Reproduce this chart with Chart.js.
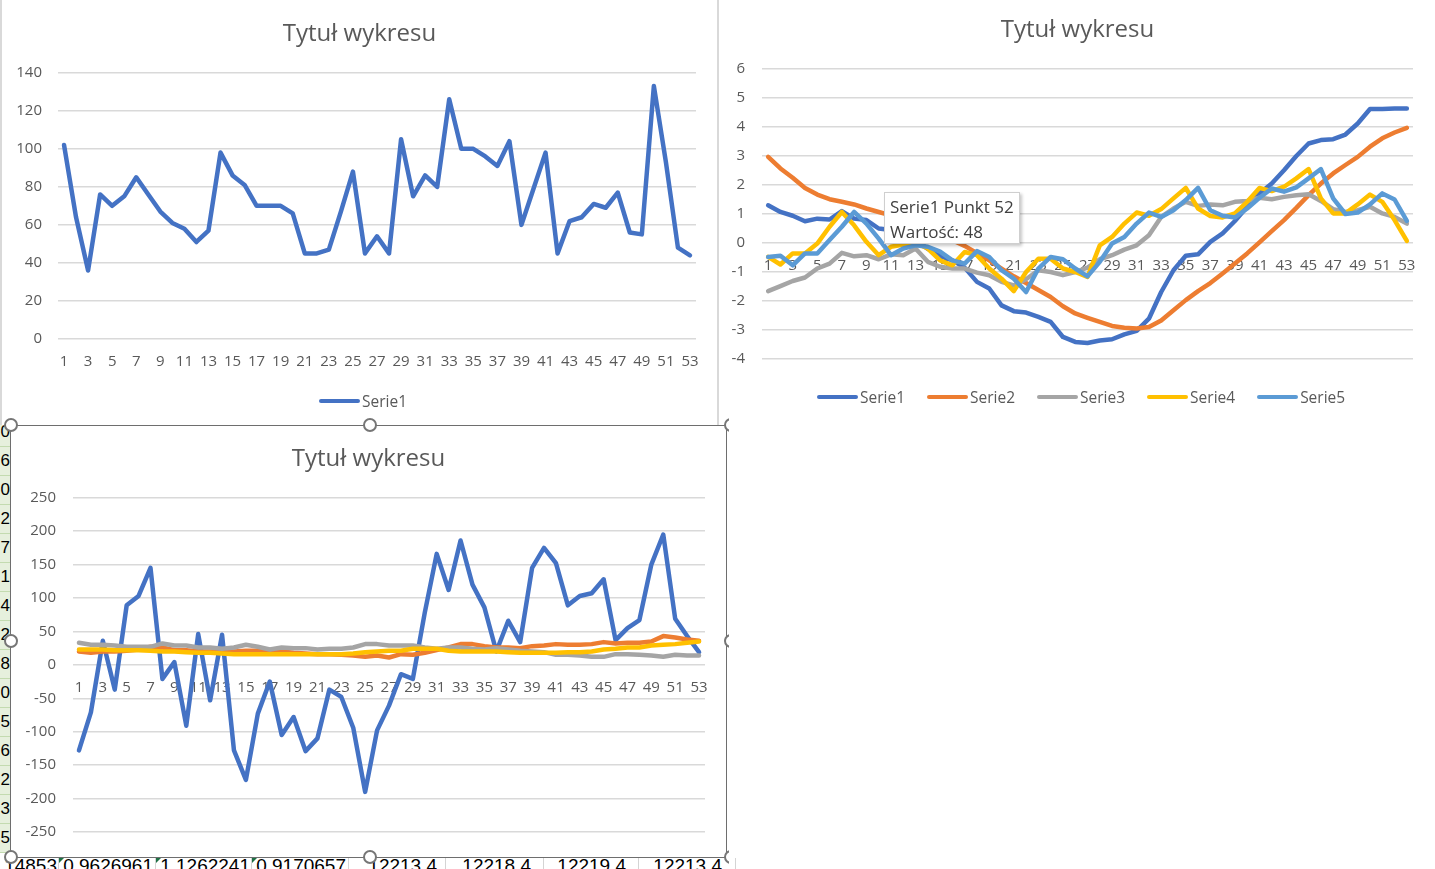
<!DOCTYPE html>
<html lang="pl">
<head>
<meta charset="utf-8">
<title>Tytuł wykresu</title>
<script src="https://cdn.jsdelivr.net/npm/chart.js@4.4.1/dist/chart.umd.min.js"></script>
<style>
html, body { margin: 0; padding: 0; background: #fff; }
#sheet { position: relative; width: 1435px; height: 869px; overflow: hidden; font-family: "Open Sans", "Noto Sans", sans-serif; }
.chartBox { position: absolute; background: #fff; }
.chartBox canvas { display: block; }
.chartBox .title { position: absolute; left: 0; width: 100%; text-align: center; font-size: 24px; line-height: 30px; color: #595959; white-space: nowrap; }
.edge { position: absolute; background: #d9d9d9; }
.legend { position: absolute; display: flex; align-items: center; font-size: 15.5px; line-height: 20px; color: #595959; white-space: nowrap; }
.legend .item { display: flex; align-items: center; margin-right: 22px; }
.legend .swatch { width: 41px; height: 4px; border-radius: 2px; margin-right: 2px; }
#leftCells { position: absolute; left: 0; top: 418px; width: 10px; height: 440px; overflow: hidden; }
#leftCells div { height: 28px; border-bottom: 1px solid #c3dbb0; background: #e6f0dd; text-align: right; font: 17px/28px "Liberation Sans", sans-serif; color: #000; }
#bottomCells { position: absolute; left: 0; top: 858px; width: 1435px; height: 11px; overflow: hidden; }
#bottomCells span { position: absolute; top: -3px; font: 19px/22px "Liberation Sans", sans-serif; color: #000; }
#bottomCells i { position: absolute; top: 0; width: 1px; height: 11px; background: #d4d4d4; }
#bottomCells b { position: absolute; top: 0; width: 0; height: 0; border-top: 5px solid #1e7145; border-right: 5px solid transparent; }
#selBorder { position: absolute; left: 10px; top: 425px; width: 717px; height: 433px; border: 1px solid #6e6e6e; box-sizing: border-box; }
#handles { position: absolute; left: 0; top: 0; width: 729px; height: 869px; overflow: hidden; }
#handles div { position: absolute; width: 10px; height: 10px; margin: -7.5px 0 0 -7.5px; border: 2.5px solid #767676; border-radius: 50%; background: #fff; }
#tip { position: absolute; left: 884px; top: 192px; width: 136px; height: 52px; box-sizing: border-box; padding: 1px 5px; background: #fff; border: 1px solid #cfcfcf; box-shadow: 2px 2px 3px rgba(0,0,0,0.22); font-size: 17px; line-height: 25px; color: #404040; white-space: nowrap; }
</style>
</head>
<body>
<div id="sheet">
  <div id="leftCells"></div>
  <div id="bottomCells"></div>

  <div class="chartBox" style="left:1px; top:0; width:717px; height:425px;">
    <canvas id="chartTopLeft" width="717" height="425"></canvas>
    <div class="title" style="top:17px;"></div>
  </div>
  <div class="edge" style="left:0; top:0; width:2px; height:425px;"></div>
  <div class="edge" style="left:717px; top:0; width:2px; height:425px;"></div>
  <div class="legend" id="legendTopLeft" style="left:319px; top:391px;"></div>

  <div class="chartBox" style="left:720px; top:0; width:715px; height:425px;">
    <canvas id="chartTopRight" width="715" height="425"></canvas>
    <div class="title" style="top:13px;"></div>
  </div>
  <div class="legend" id="legendTopRight" style="left:817px; top:387px;"></div>

  <div class="chartBox" style="left:10px; top:425px; width:717px; height:433px;">
    <canvas id="chartBottom" width="717" height="433"></canvas>
    <div class="title" style="top:17px;"></div>
  </div>
  <div id="selBorder"></div>
  <div id="handles"></div>

  <div id="tip"></div>
</div>

<script>
var chartTitle = 'Tytuł wykresu';

// categories 1..53 shared by all three charts
var categories = [1, 2, 3, 4, 5, 6, 7, 8, 9, 10, 11, 12, 13, 14, 15, 16, 17, 18, 19, 20,
  21, 22, 23, 24, 25, 26, 27, 28, 29, 30, 31, 32, 33, 34, 35, 36, 37, 38, 39, 40,
  41, 42, 43, 44, 45, 46, 47, 48, 49, 50, 51, 52, 53];

// chart 1 (top left)
var topLeftSerie1 = [102, 64, 36, 76, 70, 75, 85, 76, 67, 61, 58, 51, 57, 98, 86, 81, 70, 70, 70, 66,
  45, 45, 47, 67, 88, 45, 54, 45, 105, 75, 86, 80, 126, 100, 100, 96, 91, 104, 60, 79,
  98, 45, 62, 64, 71, 69, 77, 56, 55, 133, 93, 48, 44];

// chart 2 (top right)
var topRightSerie1 = [1.30, 1.07, 0.94, 0.75, 0.84, 0.81, 1.10, 0.84, 0.79, 0.50, 0.45, 0.30, 0.10, -0.20, -0.45, -0.60, -0.85, -1.34, -1.57, -2.15,
  -2.35, -2.40, -2.55, -2.72, -3.24, -3.41, -3.45, -3.36, -3.32, -3.15, -3.03, -2.61, -1.69, -0.94, -0.44, -0.39, 0.04, 0.33, 0.76, 1.25,
  1.71, 2.05, 2.51, 3.00, 3.43, 3.55, 3.58, 3.74, 4.12, 4.62, 4.62, 4.64, 4.64];
var topRightSerie2 = [2.97, 2.57, 2.25, 1.90, 1.67, 1.51, 1.42, 1.33, 1.19, 1.07, 0.95, 0.80, 0.62, 0.45, 0.28, 0.10, -0.10, -0.35, -0.60, -0.88,
  -1.15, -1.38, -1.62, -1.86, -2.18, -2.43, -2.58, -2.72, -2.86, -2.92, -2.95, -2.90, -2.67, -2.32, -1.97, -1.66, -1.38, -1.05, -0.71, -0.36,
  0.02, 0.41, 0.79, 1.21, 1.65, 2.05, 2.40, 2.69, 2.97, 3.32, 3.61, 3.81, 3.97];
var topRightSerie3 = [-1.66, -1.49, -1.31, -1.19, -0.88, -0.71, -0.34, -0.46, -0.42, -0.56, -0.39, -0.42, -0.19, -0.65, -0.82, -0.88, -0.88, -1.02, -1.11, -1.34,
  -1.46, -1.25, -0.94, -1.00, -1.11, -1.00, -0.85, -0.56, -0.42, -0.23, -0.08, 0.27, 0.90, 1.19, 1.42, 1.28, 1.33, 1.30, 1.42, 1.45,
  1.56, 1.51, 1.59, 1.65, 1.68, 1.45, 1.17, 1.07, 1.13, 1.25, 1.02, 0.90, 0.67];
var topRightSerie4 = [-0.48, -0.74, -0.36, -0.36, -0.02, 0.56, 1.07, 0.61, 0.04, -0.42, -0.13, -0.05, 0.00, -0.19, -0.60, -0.77, -0.31, -0.42, -0.88, -1.23,
  -1.66, -1.00, -0.54, -0.54, -0.88, -1.00, -1.17, -0.08, 0.21, 0.67, 1.05, 0.94, 1.17, 1.54, 1.90, 1.19, 0.93, 0.88, 1.02, 1.42,
  1.90, 1.79, 1.94, 2.23, 2.55, 1.54, 1.02, 1.02, 1.33, 1.67, 1.42, 0.79, 0.07];
var topRightSerie5 = [-0.48, -0.44, -0.77, -0.36, -0.36, 0.10, 0.56, 1.07, 0.67, 0.15, -0.42, -0.19, -0.08, -0.13, -0.30, -0.60, -0.71, -0.28, -0.48, -0.94,
  -1.23, -1.69, -0.88, -0.48, -0.56, -0.88, -1.15, -0.65, -0.02, 0.21, 0.67, 1.05, 0.90, 1.13, 1.48, 1.90, 1.13, 0.94, 0.88, 1.19,
  1.56, 1.88, 1.77, 1.92, 2.23, 2.55, 1.54, 1.00, 1.05, 1.33, 1.71, 1.50, 0.76];

// chart 3 (bottom)
var bottomSerie1 = [-128, -71, 36, -37, 89, 103, 145, -21, 4, -91, 46, -53, 45, -128, -172, -73, -25, -105, -78, -129,
  -110, -37, -48, -94, -190, -98, -61, -14, -21, 78, 166, 112, 186, 120, 86, 20, 66, 34, 145, 175,
  152, 89, 103, 107, 128, 37, 55, 67, 150, 195, 69, 43, 19];
var bottomSerie2 = [20, 18, 20, 20, 21, 23, 27, 26, 22, 22, 20, 20, 19, 20, 21, 21, 19, 20, 18, 17,
  16, 16, 15, 14, 12, 14, 11, 16, 15, 18, 22, 26, 31, 31, 28, 26, 26, 25, 28, 29,
  31, 30, 30, 31, 34, 32, 33, 33, 35, 43, 41, 38, 36];
var bottomSerie3 = [33, 30, 30, 29, 27, 27, 27, 32, 29, 29, 26, 26, 24, 26, 30, 27, 23, 26, 25, 25,
  23, 24, 24, 26, 31, 31, 29, 29, 29, 26, 24, 26, 26, 24, 23, 25, 23, 21, 20, 19,
  15, 15, 14, 12, 12, 16, 16, 15, 14, 12, 15, 14, 14];
var bottomSerie4 = [23, 23, 23, 22, 22, 22, 21, 20, 20, 19, 18, 18, 17, 16, 16, 16, 16, 16, 16, 16,
  16, 16, 16, 17, 19, 20, 21, 21, 24, 24, 24, 21, 20, 20, 20, 20, 19, 18, 18, 18,
  18, 19, 19, 20, 23, 24, 26, 26, 29, 30, 31, 33, 35];

// worksheet cells peeking out around the charts
var leftCellTexts = ['0', '6', '0', '2', '7', '1', '4', '2', '8', '0', '5', '6', '2', '3', '5'];
var bottomCellTexts = ['14853', '0.9626961', '1.1262241', '0.9170657', '12213.4', '12218.4', '12219.4', '12213.4'];

var tipSeries = 'Serie1';
var tipPoint = 52;

var FONT = '"Open Sans", "Noto Sans", sans-serif';
var textColor = '#595959';
var gridColor = '#d9d9d9';
var palette = ['#4472C4', '#ED7D31', '#A5A5A5', '#FFC000', '#5B9BD5'];

function lineSet(label, data, i, count) {
  return {
    label: label,
    data: data,
    borderColor: palette[i],
    backgroundColor: palette[i],
    borderWidth: 4.5,
    borderCapStyle: 'round',
    borderJoinStyle: 'round',
    pointRadius: 0,
    pointHoverRadius: 0,
    tension: 0,
    order: count - i   // later series on top, like Excel
  };
}

function makeChart(id, series, yMin, yMax, yStep, box) {
  var canvas = document.getElementById(id);
  // title sits in html so it is centred over the whole chart box, like Excel
  canvas.parentNode.querySelector('.title').textContent = chartTitle;
  var datasets = series.map(function (s, i) { return lineSet(s[0], s[1], i, series.length); });
  return new Chart(canvas, {
    type: 'line',
    data: { labels: categories, datasets: datasets },
    options: {
      responsive: false,
      animation: false,
      events: [],
      layout: { padding: { left: 0, top: box.padTop, right: box.padRight, bottom: box.padBottom } },
      plugins: {
        legend: { display: false },
        tooltip: { enabled: false },
        title: { display: false }
      },
      scales: {
        x: {
          type: 'category',
          offset: true,
          position: { y: 0 },
          grid: { display: false, drawTicks: false },
          border: { display: false },
          ticks: {
            autoSkip: false,
            maxRotation: 0,
            minRotation: 0,
            padding: 14,
            color: textColor,
            font: { family: FONT, size: 15 },
            callback: function (value, index) {
              return index % 2 === 0 ? this.getLabelForValue(value) : '';
            }
          }
        },
        y: {
          min: yMin,
          max: yMax,
          ticks: { stepSize: yStep, padding: box.yPad, color: textColor, font: { family: FONT, size: 15 } },
          grid: { color: gridColor, lineWidth: 1.5, drawTicks: false },
          border: { display: false },
          afterFit: function (scale) { scale.width = box.yWidth; }
        }
      }
    }
  });
}

function buildLegend(elId, chart) {
  var el = document.getElementById(elId);
  chart.data.datasets.forEach(function (ds) {
    var item = document.createElement('div');
    item.className = 'item';
    var sw = document.createElement('span');
    sw.className = 'swatch';
    sw.style.background = ds.borderColor;
    var txt = document.createElement('span');
    txt.textContent = ds.label;
    item.appendChild(sw);
    item.appendChild(txt);
    el.appendChild(item);
  });
}

var chartTopLeft = makeChart('chartTopLeft', [['Serie1', topLeftSerie1]], 0, 140, 20,
  { yWidth: 57, yPad: 16, padTop: 72.7, padRight: 22, padBottom: 86 });

var chartTopRight = makeChart('chartTopRight', [
  ['Serie1', topRightSerie1], ['Serie2', topRightSerie2], ['Serie3', topRightSerie3],
  ['Serie4', topRightSerie4], ['Serie5', topRightSerie5]
], -4, 6, 1,
  { yWidth: 42, yPad: 17, padTop: 69, padRight: 22, padBottom: 66 });

var chartBottom = makeChart('chartBottom', [
  ['Serie1', bottomSerie1], ['Serie2', bottomSerie2], ['Serie3', bottomSerie3], ['Serie4', bottomSerie4]
], -250, 250, 50,
  { yWidth: 63, yPad: 17, padTop: 72.7, padRight: 22, padBottom: 24 });

buildLegend('legendTopLeft', chartTopLeft);
buildLegend('legendTopRight', chartTopRight);

// stray tooltip left over in the screenshot (points at chart 1)
document.getElementById('tip').innerHTML =
  tipSeries + ' Punkt ' + tipPoint + '<br>Wartość: ' + topLeftSerie1[tipPoint - 1];

// worksheet cells
var leftCells = document.getElementById('leftCells');
leftCellTexts.forEach(function (t) {
  var d = document.createElement('div');
  d.textContent = t;
  leftCells.appendChild(d);
});

var bottomCells = document.getElementById('bottomCells');
var cellEdges = [58, 155, 251, 348, 445, 543, 638, 735];
var textRight = [57, 153, 250, 346, 437, 531, 626, 722];
cellEdges.forEach(function (x, i) {
  var line = document.createElement('i');
  line.style.left = x + 'px';
  bottomCells.appendChild(line);
  if (i < 3) {
    var tri = document.createElement('b');
    tri.style.left = (x + 1) + 'px';
    bottomCells.appendChild(tri);
  }
});
bottomCellTexts.forEach(function (t, i) {
  var s = document.createElement('span');
  s.textContent = t;
  s.style.right = (1435 - textRight[i]) + 'px';
  bottomCells.appendChild(s);
});

// selection handles of the active chart
var handles = document.getElementById('handles');
[[11, 425], [370, 425], [731, 425], [11, 641], [731, 641], [11, 857], [370, 857], [731, 857]].forEach(function (p) {
  var h = document.createElement('div');
  h.style.left = p[0] + 'px';
  h.style.top = p[1] + 'px';
  handles.appendChild(h);
});
</script>
</body>
</html>
